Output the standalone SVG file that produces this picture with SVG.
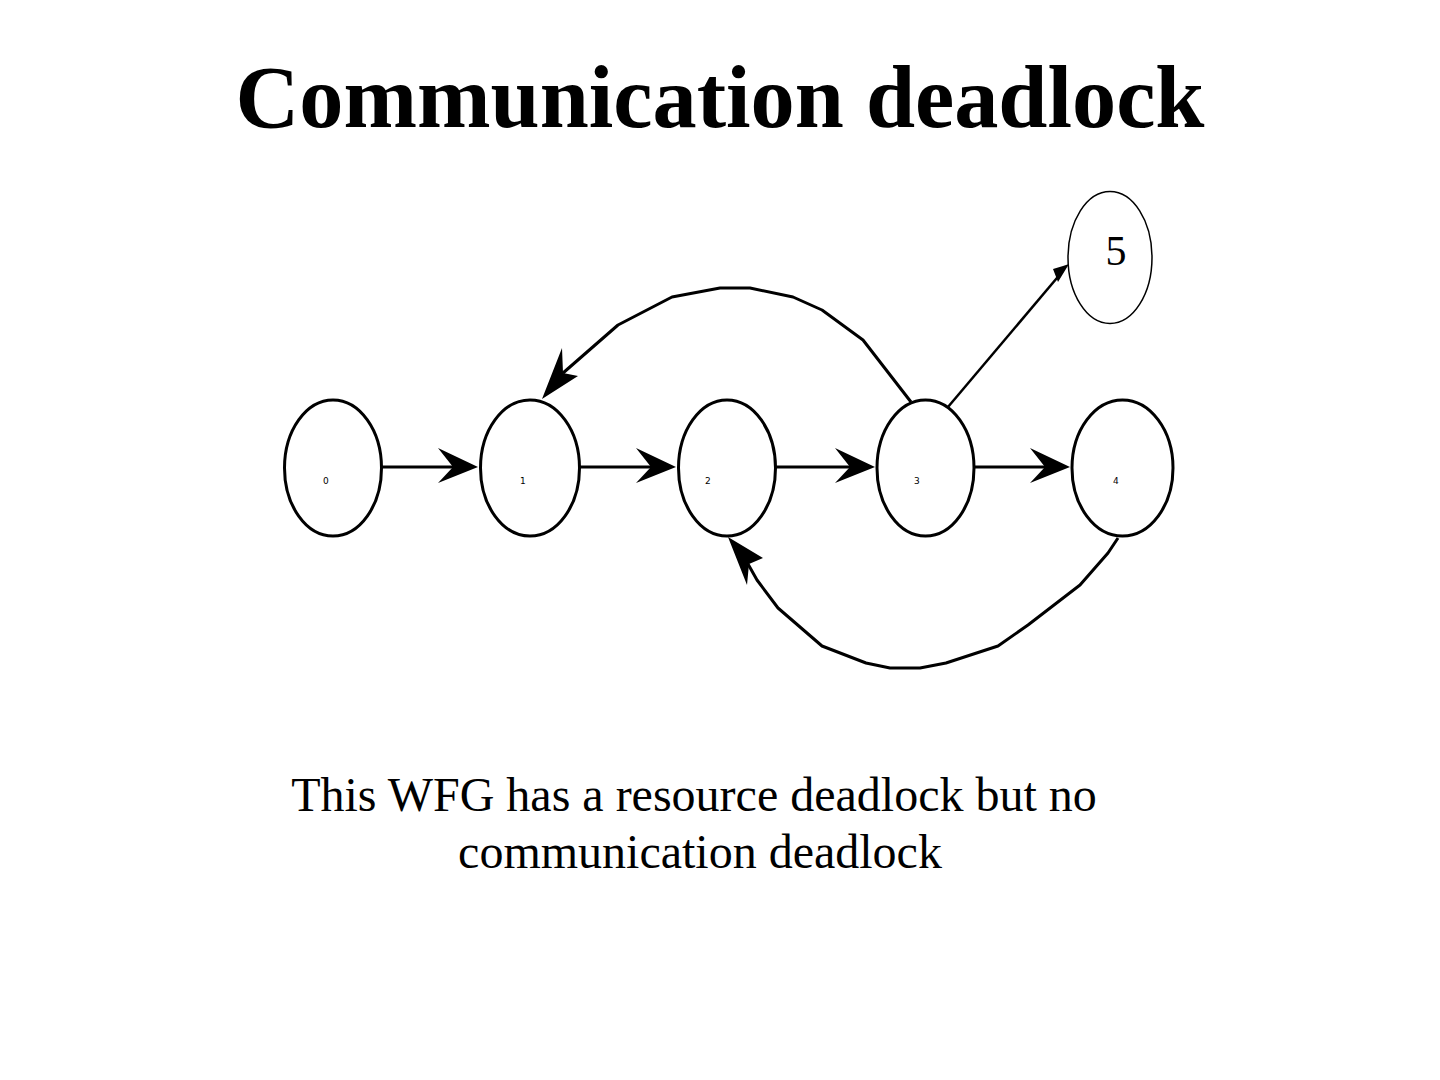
<svg xmlns="http://www.w3.org/2000/svg" width="1440" height="1080" viewBox="0 0 1440 1080">
<style>
.node{fill:#fff;stroke:#000;stroke-width:3}
.thin{fill:#fff;stroke:#000;stroke-width:1.5}
.lbl{font-family:"DejaVu Sans",sans-serif;font-size:9px;fill:#000}
.edge{fill:none;stroke:#000;stroke-width:3;stroke-linejoin:round}
.head{fill:#000;stroke:none}
.serif{font-family:"Liberation Serif",serif;fill:#000}
</style>
<rect width="1440" height="1080" fill="#fff"/>
<text class="serif" x="720" y="127" font-size="88.3" font-weight="bold" text-anchor="middle">Communication deadlock</text>
<g id="connectors">
  <line class="edge" x1="382" y1="467" x2="454" y2="467"/>
  <polygon class="head" points="478,467 438,448 453,467 438,483"/>
  <line class="edge" x1="580" y1="467" x2="652" y2="467"/>
  <polygon class="head" points="676,467 636,448 651,467 636,483"/>
  <line class="edge" x1="776" y1="467" x2="852" y2="467"/>
  <polygon class="head" points="875,467 835,448 850,467 835,483"/>
  <line class="edge" x1="974" y1="467" x2="1047" y2="467"/>
  <polygon class="head" points="1070,467 1030,448 1045,467 1030,483"/>
  <polyline class="edge" points="911,402 863,340 822,310 793,297 750,288 720,288 672,297 618,325 563,373"/>
  <polygon class="head" points="542,399 562,348 563,373 578,376"/>
  <polyline class="edge" points="1118,538 1108,553 1080,585 1028,625 998,646 946,663 920,668 890,668 866,663 822,646 778,608 757,580 748,564"/>
  <polygon class="head" points="728,537 763,558 749,564 747,585"/>
  <line x1="948" y1="407" x2="1062" y2="272" stroke="#000" stroke-width="2.5"/>
  <polygon class="head" points="1069,264 1058,282 1053,269 1063,266"/>
</g>
<g id="node0"><ellipse class="node" cx="333" cy="468" rx="48.5" ry="68"/><text class="lbl" x="323" y="484">0</text></g>
<g id="node1"><ellipse class="node" cx="530" cy="468" rx="49.5" ry="68"/><text class="lbl" x="520" y="484">1</text></g>
<g id="node2"><ellipse class="node" cx="727" cy="468" rx="48.5" ry="68"/><text class="lbl" x="705" y="484">2</text></g>
<g id="node3"><ellipse class="node" cx="925.5" cy="468" rx="48.5" ry="68"/><text class="lbl" x="914" y="484">3</text></g>
<g id="node4"><ellipse class="node" cx="1122.5" cy="468" rx="50.5" ry="68"/><text class="lbl" x="1113" y="484">4</text></g>
<g id="node5"><ellipse class="thin" cx="1110" cy="257.5" rx="42" ry="66"/><text class="serif" x="1116" y="265" font-size="42" text-anchor="middle">5</text></g>
<text class="serif" x="694" y="811" font-size="48" text-anchor="middle">This WFG has a resource deadlock but no</text>
<text class="serif" x="700" y="868" font-size="48" text-anchor="middle">communication deadlock</text>
</svg>
